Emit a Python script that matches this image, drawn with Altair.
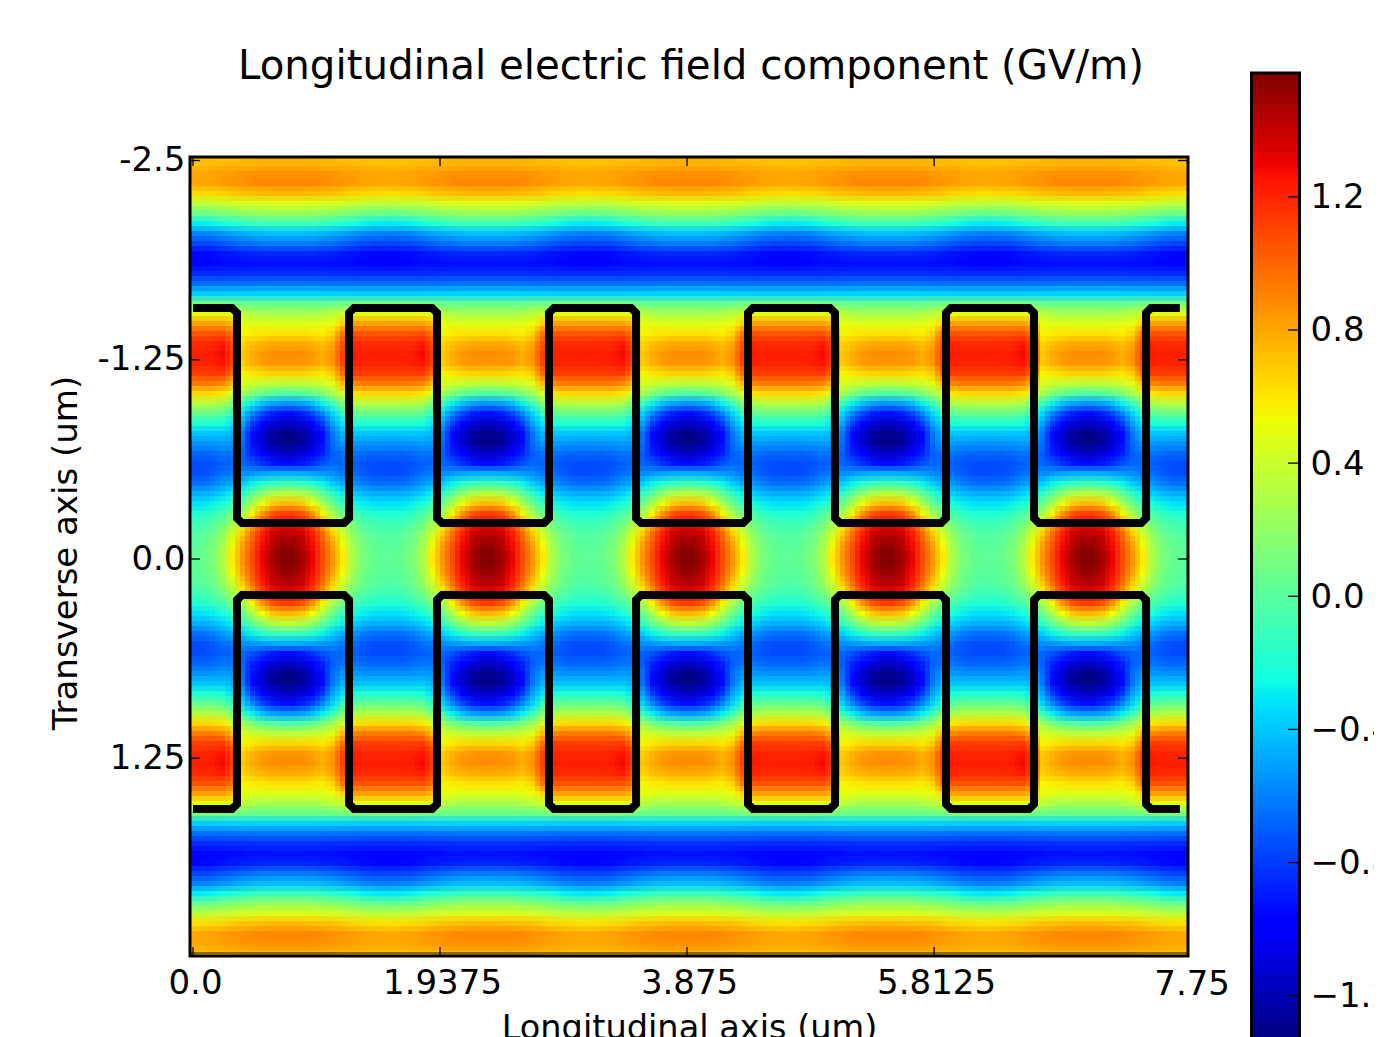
import altair as alt
import pandas as pd

alt.data_transformers.disable_max_rows()

TITLE = "Longitudinal electric field component (GV/m)"
X_TITLE = "Longitudinal axis (um)"
Y_TITLE = "Transverse axis (um)"
FONT = "DejaVu Sans"

X_TICKS = [0.0, 1.9375, 3.875, 5.8125]
X_LAST_LABEL = [7.75]
Y_TICKS = [-2.5, -1.25, 0.0, 1.25, 2.5]
CBAR_TICKS = [1.2, 0.8, 0.4, 0.0, -0.4, -0.8, -1.2]
VMIN, VMAX = -1.33, 1.572

JET_T = [0, .11, .125, .34, .35, .375, .64, .65, .66, .89, .91, 1]
JET_C = ["#00007f", "#0000ff", "#0000ff", "#00dbff", "#00e5f7", "#14ffe2",
         "#eeff08", "#f7f500", "#ffec00", "#ff1300", "#e80000", "#7f0000"]

# One period of the field, upper half (row 0 is the top of the plot, rows mirror about the axis)
FIELD = [
 [.72,.72,.73,.73,.74,.75,.75,.76,.76,.76,.76,.76,.76,.75,.75,.74,.73,.73,.72,.72],
 [.79,.79,.80,.82,.83,.85,.86,.87,.87,.87,.87,.87,.87,.86,.85,.83,.82,.80,.79,.79],
 [.79,.80,.81,.83,.85,.86,.88,.89,.89,.89,.89,.89,.89,.88,.86,.85,.83,.81,.80,.79],
 [.62,.63,.64,.66,.69,.71,.72,.73,.74,.74,.74,.74,.73,.72,.71,.69,.66,.64,.63,.62],
 [.35,.36,.37,.39,.42,.44,.45,.46,.47,.47,.47,.47,.46,.45,.44,.42,.39,.37,.36,.35],
 [.05,.06,.08,.11,.14,.17,.19,.21,.22,.22,.22,.22,.21,.19,.17,.14,.11,.08,.06,.05],
 [-.30,-.29,-.27,-.23,-.19,-.16,-.13,-.11,-.10,-.10,-.10,-.10,-.11,-.13,-.16,-.19,-.23,-.27,-.29,-.30],
 [-.60,-.59,-.57,-.54,-.50,-.47,-.45,-.43,-.42,-.42,-.42,-.42,-.43,-.45,-.47,-.50,-.54,-.57,-.59,-.60],
 [-.78,-.77,-.75,-.72,-.69,-.66,-.64,-.62,-.61,-.61,-.61,-.61,-.62,-.64,-.66,-.69,-.72,-.75,-.77,-.78],
 [-.96,-.95,-.94,-.92,-.90,-.88,-.87,-.86,-.85,-.85,-.85,-.85,-.86,-.87,-.88,-.90,-.92,-.94,-.95,-.96],
 [-.97,-.97,-.96,-.95,-.94,-.94,-.93,-.93,-.93,-.93,-.93,-.93,-.93,-.93,-.94,-.94,-.95,-.96,-.97,-.97],
 [-.85,-.85,-.85,-.84,-.84,-.84,-.83,-.83,-.83,-.83,-.83,-.83,-.83,-.83,-.84,-.84,-.84,-.85,-.85,-.85],
 [-.65,-.65,-.65,-.65,-.64,-.64,-.64,-.63,-.63,-.63,-.63,-.63,-.63,-.64,-.64,-.64,-.65,-.65,-.65,-.65],
 [-.38,-.38,-.38,-.38,-.37,-.37,-.37,-.36,-.36,-.36,-.36,-.36,-.36,-.37,-.37,-.37,-.38,-.38,-.38,-.38],
 [.10,.10,.10,.09,.08,.06,.05,.05,.05,.05,.05,.05,.05,.05,.06,.08,.09,.10,.10,.10],
 [.50,.50,.50,.50,.48,.34,.30,.27,.27,.27,.27,.27,.27,.30,.34,.40,.50,.50,.50,.50],
 [.82,.82,.82,.82,.74,.50,.48,.47,.47,.47,.47,.47,.47,.48,.52,.66,.82,.82,.82,.82],
 [1.05,1.05,1.05,1.06,.97,.55,.58,.6,.62,.62,.62,.62,.6,.58,.66,.95,1.06,1.05,1.05,1.05],
 [1.18,1.18,1.19,1.23,1.08,.66,.72,.76,.78,.78,.78,.78,.76,.72,.8,1.06,1.2,1.18,1.18,1.18],
 [1.22,1.22,1.23,1.28,1.14,.7,.78,.84,.87,.88,.88,.87,.84,.78,.86,1.12,1.24,1.22,1.22,1.22],
 [1.2,1.2,1.21,1.25,1.12,.68,.76,.82,.85,.85,.85,.85,.82,.76,.84,1.1,1.22,1.2,1.2,1.2],
 [1.12,1.12,1.12,1.13,.98,.55,.6,.63,.65,.65,.65,.65,.63,.6,.68,.97,1.13,1.12,1.12,1.12],
 [.93,.93,.93,.9,.74,.45,.42,.39,.37,.35,.35,.37,.39,.42,.48,.74,.9,.93,.93,.93],
 [.65,.65,.64,.6,.44,.25,.12,.03,-.02,-.04,-.04,-.02,.03,.12,.25,.44,.6,.64,.65,.65],
 [.33,.33,.32,.28,.12,-.1,-.28,-.42,-.5,-.54,-.54,-.5,-.42,-.28,-.1,.12,.28,.32,.33,.33],
 [.05,.05,.05,.0,-.14,-.36,-.58,-.76,-.88,-.93,-.93,-.88,-.76,-.58,-.36,-.14,.0,.05,.05,.05],
 [-.2,-.2,-.2,-.22,-.32,-.5,-.8,-.98,-1.1,-1.15,-1.15,-1.1,-.98,-.8,-.5,-.32,-.22,-.2,-.2,-.2],
 [-.4,-.4,-.4,-.4,-.45,-.63,-.95,-1.12,-1.25,-1.3,-1.3,-1.25,-1.12,-.95,-.63,-.45,-.4,-.4,-.4,-.4],
 [-.55,-.55,-.54,-.52,-.53,-.66,-.93,-1.12,-1.25,-1.3,-1.3,-1.25,-1.12,-.93,-.66,-.53,-.52,-.54,-.55,-.55],
 [-.68,-.68,-.66,-.63,-.64,-.7,-.87,-1.0,-1.1,-1.15,-1.15,-1.1,-1.0,-.87,-.7,-.64,-.63,-.66,-.68,-.68],
 [-.75,-.75,-.73,-.7,-.68,-.68,-.74,-.83,-.9,-.94,-.94,-.9,-.83,-.74,-.68,-.68,-.7,-.73,-.75,-.75],
 [-.75,-.74,-.71,-.65,-.62,-.56,-.53,-.5,-.48,-.46,-.46,-.48,-.5,-.53,-.56,-.62,-.65,-.71,-.74,-.75],
 [-.65,-.64,-.6,-.53,-.47,-.38,-.27,-.18,-.12,-.1,-.1,-.12,-.18,-.27,-.38,-.47,-.53,-.6,-.64,-.65],
 [-.47,-.46,-.43,-.37,-.28,-.14,.03,.2,.3,.35,.35,.3,.2,.03,-.14,-.28,-.37,-.43,-.46,-.47],
 [-.33,-.32,-.28,-.22,-.12,.06,.3,.52,.68,.74,.74,.68,.52,.3,.06,-.12,-.22,-.28,-.32,-.33],
 [-.2,-.19,-.14,-.05,.09,.28,.55,.86,1.05,1.12,1.12,1.05,.86,.55,.28,.09,-.05,-.14,-.19,-.2],
 [-.1,-.08,-.02,.08,.26,.48,.8,1.08,1.24,1.3,1.3,1.24,1.08,.8,.48,.26,.08,-.02,-.08,-.1],
 [-.03,.0,.06,.2,.42,.68,.98,1.22,1.37,1.42,1.42,1.37,1.22,.98,.68,.42,.2,.06,.0,-.03],
 [.0,.03,.1,.26,.52,.8,1.05,1.27,1.42,1.5,1.5,1.42,1.27,1.05,.8,.52,.26,.1,.03,.0],
 [.02,.05,.13,.29,.58,.85,1.08,1.3,1.47,1.55,1.55,1.47,1.3,1.08,.85,.58,.29,.13,.05,.02],
]

# Black outline: wall positions along x and the two levels of each line (um)
WALLS = [.345, 1.224, 1.914, 2.792, 3.475, 4.353, 5.035, 5.906, 6.596, 7.475]
LINE_END = 7.74
UPPER_OUTER, UPPER_INNER = -1.575, -0.226
LOWER_OUTER, LOWER_INNER = 1.568, 0.226
CHAMFER_X, CHAMFER_Y = 0.039, 0.031

# plot geometry: frame spans 998 x 799 px, tick 0 sits 3 px in from the left frame
W, H = 998, 799
PX_X, PX_Y = 127.5, 159.4
X_DOM = [-3 / PX_X, 995 / PX_X]
Y_DOM = [-402 / PX_Y, 397 / PX_Y]
CELL = 10
ROWS = len(FIELD)
COLS = len(FIELD[0])

rows = []
for k in range(COLS * 5 + 3):
    x_left = (k * CELL - 6) / PX_X
    x_right = ((k + 1) * CELL - 6) / PX_X
    col = k % COLS
    for r in range(ROWS):
        rows.append((round(x_left, 4), round(x_right, 4),
                     round((-401 + r * CELL) / PX_Y, 4),
                     round((-401 + (r + 1) * CELL) / PX_Y, 4), FIELD[r][col]))
        # mirrored row below the axis
        rows.append((round(x_left, 4), round(x_right, 4),
                     round((-401 + (2 * ROWS - r - 1) * CELL) / PX_Y, 4),
                     round((-401 + (2 * ROWS - r) * CELL) / PX_Y, 4), FIELD[r][col]))
grid = pd.DataFrame(rows, columns=["x0", "x1", "y0", "y1", "v"])


def outline(start_level, inner_level):
    pts = [(0.0, start_level)]
    level = start_level
    for w in WALLS:
        other = inner_level if level == start_level else start_level
        d = 1 if other > level else -1
        pts += [(w - CHAMFER_X, level), (w, level + d * CHAMFER_Y),
                (w, other - d * CHAMFER_Y), (w + CHAMFER_X, other)]
        level = other
    pts.append((LINE_END, level))
    return pts


line_rows = []
for name, (a, b) in {"upper": (UPPER_OUTER, UPPER_INNER), "lower": (LOWER_OUTER, LOWER_INNER)}.items():
    for i, (px, py) in enumerate(outline(a, b)):
        line_rows.append({"name": name, "i": i, "x": px, "y": py})
lines = pd.DataFrame(line_rows)

color_scale = alt.Scale(domain=[VMIN + t * (VMAX - VMIN) for t in JET_T], range=JET_C, interpolate="rgb")
x_scale = alt.Scale(domain=X_DOM, nice=False, zero=False)
y_scale = alt.Scale(domain=Y_DOM, nice=False, zero=False, reverse=True)
cb_scale = alt.Scale(domain=[VMIN, VMAX], range=[882, -84], nice=False, zero=False)

FS = 34
x_axis = alt.Axis(values=X_TICKS, title=X_TITLE, ticks=False, domain=False, grid=False,
                  labelExpr="datum.value == 0 ? '0.0' : toString(datum.value)",
                  labelFont=FONT, labelFontSize=FS, labelColor="black", labelPadding=10,
                  labelOffset=2, labelOverlap=False, labelBound=False, labelFlush=False,
                  titleFont=FONT, titleFontSize=33.6, titleFontWeight="normal", titleColor="black", titlePadding=11)
y_axis = alt.Axis(values=Y_TICKS, title=Y_TITLE, ticks=False, domain=False, grid=False,
                  labelExpr="datum.value == 0 ? '0.0' : toString(datum.value)",
                  labelFont=FONT, labelFontSize=FS, labelColor="black", labelPadding=5,
                  labelOffset=0, labelOverlap=False, labelBound=False, labelFlush=False,
                  titleFont=FONT, titleFontSize=FS, titleFontWeight="normal", titleColor="black", titlePadding=14,
                  titleY=H / 2 - 4)
cb_axis = alt.Axis(values=CBAR_TICKS, format=".1f", title=None, orient="right", offset=112,
                   ticks=False, domain=False, grid=False,
                   labelFont=FONT, labelFontSize=FS, labelColor="black", labelPadding=10,
                   labelOverlap=False, labelBound=False, labelFlush=False, labelOffset=1)


def heat(dx, dy, opacity, axes=False):
    return alt.Chart(grid).mark_rect(clip=True, opacity=opacity, xOffset=dx, x2Offset=dx, yOffset=dy, y2Offset=dy).encode(
        x=alt.X("x0:Q", scale=x_scale, axis=x_axis if axes else None),
        x2="x1:Q",
        y=alt.Y("y0:Q", scale=y_scale, axis=y_axis if axes else None),
        y2="y1:Q",
        color=alt.Color("v:Q", scale=color_scale, legend=None),
    )


line_layer = alt.Chart(lines).mark_line(color="black", strokeWidth=8, strokeJoin="miter", strokeCap="butt").encode(
    x=alt.X("x:Q", scale=x_scale, axis=None),
    y=alt.Y("y:Q", scale=y_scale, axis=None),
    detail="name:N",
    order="i:Q",
)

x_ticks = pd.DataFrame({"x": X_TICKS})
y_ticks = pd.DataFrame({"y": Y_TICKS})
cb_ticks = pd.DataFrame({"v": CBAR_TICKS})


def xtick(a, b):
    return alt.Chart(x_ticks).mark_rule(color="black", strokeWidth=1.3).encode(
        x=alt.X("x:Q", scale=x_scale, axis=None), y=alt.value(a), y2=alt.value(b))


def ytick(a, b):
    return alt.Chart(y_ticks).mark_rule(color="black", strokeWidth=1.3, clip=True).encode(
        y=alt.Y("y:Q", scale=y_scale, axis=None), x=alt.value(a), x2=alt.value(b))


frame = alt.Chart(pd.DataFrame({"a": [0]})).mark_rect(filled=False, stroke="black", strokeWidth=3).encode(
    x=alt.value(0), x2=alt.value(W), y=alt.value(0), y2=alt.value(H))
band = alt.Chart(pd.DataFrame({"a": [0]})).mark_rule(color="black", opacity=0.45, strokeWidth=2).encode(
    x=alt.value(0), x2=alt.value(W), y=alt.value(H - 3))

STEPS = 322
cb_edges = [VMIN + (VMAX - VMIN) * i / STEPS for i in range(STEPS + 1)]
cb_df = pd.DataFrame({"v0": cb_edges[:-1], "v1": cb_edges[1:], "v": [(a + b) / 2 for a, b in zip(cb_edges[:-1], cb_edges[1:])]})
cb = alt.Chart(cb_df).mark_rect(stroke=None).encode(
    x=alt.value(1061.5), x2=alt.value(1109.5),
    y=alt.Y("v0:Q", scale=cb_scale, axis=cb_axis),
    y2="v1:Q",
    color=alt.Color("v:Q", scale=color_scale, legend=None),
)
cb_tick_layer = alt.Chart(cb_ticks).mark_rule(color="black", strokeWidth=1.3).encode(
    y=alt.Y("v:Q", scale=cb_scale, axis=None), x=alt.value(1098), x2=alt.value(1108))
cb_frame = alt.Chart(pd.DataFrame({"a": [0]})).mark_rect(filled=False, stroke="black", strokeWidth=3).encode(
    x=alt.value(1061.5), x2=alt.value(1109.5), y=alt.value(-84), y2=alt.value(882))

last_label = alt.Chart(pd.DataFrame({"x": X_LAST_LABEL, "t": ["7.75"]})).mark_text(
    font=FONT, fontSize=FS, color="black", dx=11, baseline="alphabetic").encode(
    x=alt.X("x:Q", scale=x_scale, axis=None), y=alt.value(838), text="t:N")

chart = alt.layer(
    heat(-2, -2, 1, axes=True), heat(3, -2, 1 / 2), heat(-2, 3, 1 / 3), heat(3, 3, 1 / 4),
    line_layer, xtick(0, 9), xtick(H - 9, H), ytick(0, 10), ytick(W - 10, W), band, frame,
    cb, cb_tick_layer, cb_frame, last_label,
).resolve_scale(y="independent").resolve_axis(x="independent", y="independent").properties(
    width=W, height=H,
    title=alt.TitleParams(TITLE, font=FONT, fontSize=40.3, fontWeight="normal", color="black", anchor="middle", offset=-16, dx=2),
    autosize=alt.AutoSizeParams(type="none"),
    padding={"left": 182, "top": 149, "right": 186, "bottom": 81},
    background="white",
).configure_view(stroke=None)

chart.save("out.html", embed_options={"renderer": "svg", "actions": False})
